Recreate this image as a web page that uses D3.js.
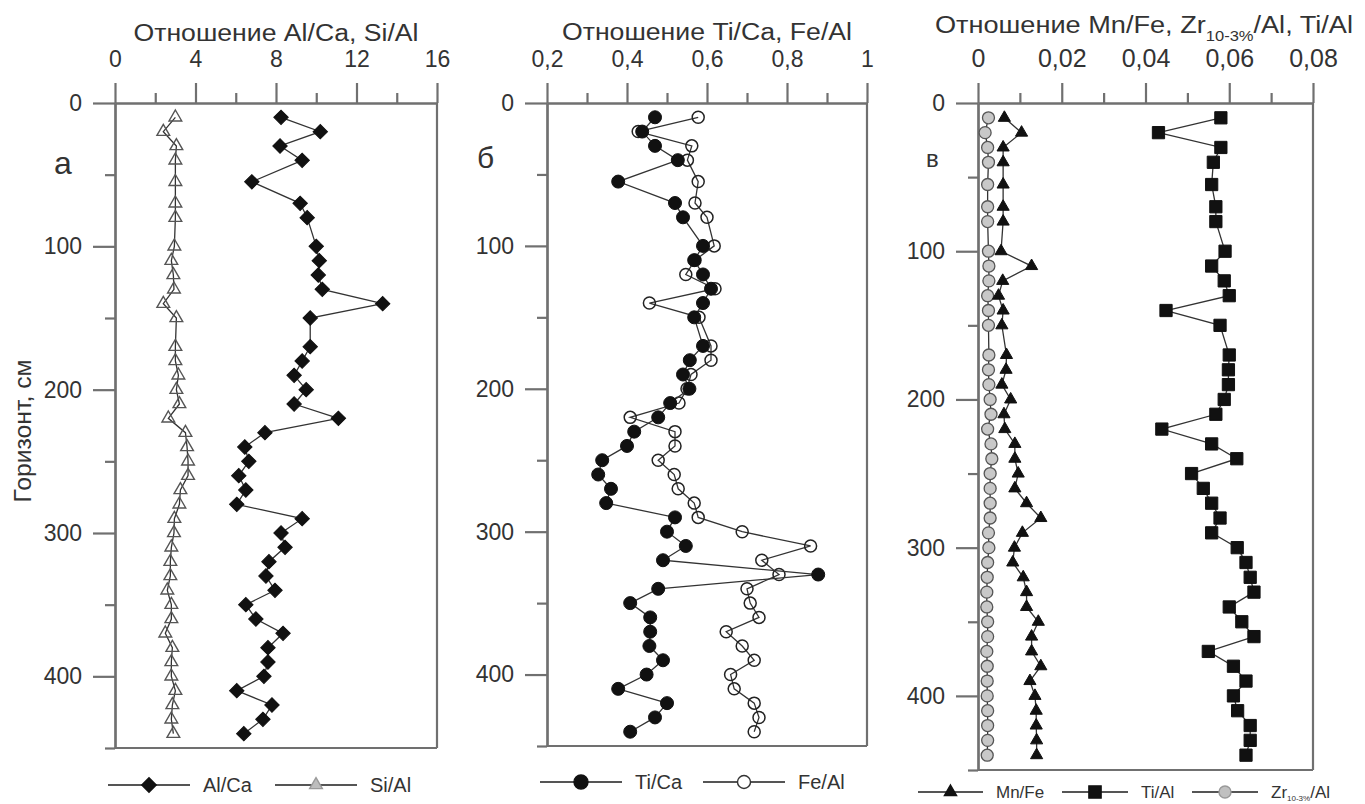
<!DOCTYPE html>
<html>
<head>
<meta charset="utf-8">
<script src="https://cdn.jsdelivr.net/npm/d3@7"></script>
<style>
  body { margin: 0; background: #fff; }
  svg text { font-family: "Liberation Sans", Arial, Helvetica, sans-serif; fill: #333; }
</style>
</head>
<body>
<div id="chart"></div>
<script>
// depth of samples, cm
const depth = [10, 20, 30, 40, 55, 70, 80, 100, 110, 120, 130, 140, 150,
  170, 180, 190, 200, 210, 220, 230, 240, 250, 260, 270, 280, 290,
  300, 310, 320, 330, 340, 350, 360, 370, 380, 390, 400, 410, 420, 430, 440];

// panel a
const alCa = [8.25, 10.2, 8.2, 9.3, 6.8, 9.2, 9.55, 10.0, 10.15, 10.1, 10.3, 13.3, 9.7,
  9.7, 9.3, 8.9, 9.5, 8.9, 11.1, 7.45, 6.45, 6.65, 6.15, 6.5, 6.05, 9.3,
  8.25, 8.45, 7.65, 7.5, 7.95, 6.5, 7.0, 8.35, 7.6, 7.6, 7.4, 6.05, 7.8, 7.35, 6.4];
const siAl = [3.0, 2.4, 3.05, 3.0, 3.0, 3.0, 3.0, 2.95, 2.8, 2.9, 2.93, 2.4, 3.05,
  3.0, 3.0, 3.15, 3.05, 3.2, 2.65, 3.5, 3.58, 3.63, 3.63, 3.25, 3.2, 2.95,
  2.93, 2.8, 2.75, 2.75, 2.6, 2.8, 2.8, 2.5, 2.85, 2.8, 2.8, 3.0, 2.85, 2.8, 2.9];

// panel б
const tiCa = [0.47, 0.438, 0.47, 0.527, 0.378, 0.52, 0.54, 0.59, 0.568, 0.59, 0.61, 0.59, 0.568,
  0.59, 0.557, 0.54, 0.556, 0.508, 0.478, 0.418, 0.4, 0.338, 0.328, 0.36, 0.348, 0.52,
  0.5, 0.547, 0.49, 0.878, 0.478, 0.408, 0.458, 0.458, 0.456, 0.49, 0.449, 0.378, 0.5, 0.47, 0.408];
const feAl = [0.578, 0.428, 0.562, 0.551, 0.578, 0.57, 0.6, 0.618, 0.57, 0.547, 0.62, 0.456, 0.58,
  0.61, 0.61, 0.56, 0.55, 0.53, 0.408, 0.52, 0.52, 0.478, 0.518, 0.528, 0.568, 0.578,
  0.688, 0.859, 0.737, 0.78, 0.7, 0.708, 0.73, 0.648, 0.688, 0.718, 0.659, 0.668, 0.718, 0.73, 0.718];

// panel в
const mnFe = [0.0063, 0.0104, 0.006, 0.006, 0.006, 0.006, 0.006, 0.0055, 0.0128, 0.0059, 0.0049, 0.006, 0.0057,
  0.0068, 0.0067, 0.0057, 0.0078, 0.0062, 0.0064, 0.0088, 0.0088, 0.0096, 0.0088, 0.0116, 0.015, 0.0106,
  0.0087, 0.0083, 0.0108, 0.0116, 0.0116, 0.0144, 0.0128, 0.0128, 0.015, 0.0124, 0.0136, 0.0139, 0.0139, 0.014, 0.014];
const tiAl = [0.058, 0.0431, 0.058, 0.0562, 0.0558, 0.0568, 0.0568, 0.059, 0.0558, 0.0588, 0.06, 0.0449, 0.0578,
  0.06, 0.0598, 0.0598, 0.0588, 0.0568, 0.0439, 0.0558, 0.0618, 0.051, 0.0538, 0.0558, 0.0578, 0.0558,
  0.0619, 0.064, 0.065, 0.0659, 0.06, 0.063, 0.0659, 0.055, 0.061, 0.064, 0.061, 0.062, 0.065, 0.065, 0.064];
const zrAl = [0.0025, 0.0017, 0.0023, 0.0025, 0.0023, 0.0023, 0.0023, 0.0025, 0.0026, 0.0026, 0.0023, 0.0025, 0.0025,
  0.0026, 0.0025, 0.0026, 0.0029, 0.0031, 0.0023, 0.0031, 0.0033, 0.0029, 0.0029, 0.0029, 0.0029, 0.0025,
  0.0026, 0.0023, 0.0022, 0.0021, 0.0021, 0.0023, 0.0023, 0.0021, 0.0022, 0.0022, 0.0022, 0.0023, 0.0023, 0.0023, 0.0022];

// axis ticks
const depthMajor = [0, 100, 200, 300, 400];
const depthMinor = [50, 150, 250, 350, 450];
const ticksA = [0, 4, 8, 12, 16], minorA = [2, 6, 10, 14];
const ticksB = [0.2, 0.4, 0.6, 0.8, 1], minorB = [0.3, 0.5, 0.7, 0.9];
const ticksC = [0, 0.02, 0.04, 0.06, 0.08], minorC = [0.01, 0.03, 0.05, 0.07];

const width = 1365, height = 804;
const axisColor = "#707070";
const lineColor = "#333";

const svg = d3.select("#chart").append("svg")
  .attr("width", width)
  .attr("height", height);

svg.append("rect").attr("width", width).attr("height", height).attr("fill", "#fff");

const commaFmt = d => String(d).replace(".", ",");

// symbol shapes
const sym = {
  diamond: d3.symbol().type(d3.symbolSquare).size(104)(),
  triangle: d3.symbol().type(d3.symbolTriangle).size(70)(),
  triSmall: d3.symbol().type(d3.symbolTriangle).size(64)(),
  square: d3.symbol().type(d3.symbolSquare).size(150)()
};

function drawPanel(p) {
  const x = d3.scaleLinear().domain(p.domain).range([p.left, p.right]);
  const y = d3.scaleLinear().domain([0, 450]).range([p.top, p.bottom]);
  const g = svg.append("g");

  // top axis, major and minor ticks
  g.append("g").attr("transform", "translate(0," + p.top + ")")
    .call(d3.axisTop(x).tickValues(p.major).tickSize(20).tickSizeOuter(0).tickPadding(16).tickFormat(commaFmt))
    .selectAll(".tick text").attr("font-size", p.tickFont);
  g.append("g").attr("transform", "translate(0," + p.top + ")")
    .call(d3.axisTop(x).tickValues(p.minor).tickSize(10).tickSizeOuter(0).tickFormat(""));

  // left axis
  g.append("g").attr("transform", "translate(" + p.left + ",0)")
    .call(d3.axisLeft(y).tickValues(depthMajor).tickSize(22).tickSizeOuter(0).tickPadding(11))
    .selectAll(".tick text").attr("font-size", p.yTickFont);
  g.append("g").attr("transform", "translate(" + p.left + ",0)")
    .call(d3.axisLeft(y).tickValues(depthMinor).tickSize(10).tickSizeOuter(0).tickFormat(""));

  g.selectAll(".domain, .tick line").attr("stroke", axisColor).attr("stroke-width", 2.2);
  g.selectAll(".tick text").attr("fill", "#333")
    .style("font-family", "'Liberation Sans', Arial, sans-serif");

  // frame: right and bottom
  g.append("line").attr("x1", x(p.domain[1])).attr("x2", x(p.domain[1]))
    .attr("y1", p.top).attr("y2", y(450)).attr("stroke", axisColor).attr("stroke-width", 2.2);
  g.append("line").attr("x1", p.left).attr("x2", x(p.domain[1]))
    .attr("y1", y(450)).attr("y2", y(450)).attr("stroke", axisColor).attr("stroke-width", 2.2);

  // title
  const t = g.append("text").attr("x", p.titleX).attr("y", p.titleY)
    .attr("text-anchor", "middle").attr("font-size", 23)
    .attr("textLength", p.titleLen).attr("lengthAdjust", "spacingAndGlyphs");
  p.title.forEach(part => {
    const ts = t.append("tspan").text(part.text);
    if (part.sub) ts.attr("font-size", 14).attr("dy", 8);
    if (part.after) ts.attr("dy", -8);
  });

  // panel letter
  g.append("text").attr("x", p.letterX).attr("y", p.letterY)
    .attr("font-size", p.letterFont).text(p.letter);

  // series
  p.series.forEach(s => {
    const pts = depth.map((d, i) => [x(s.values[i]), y(d)]);
    g.append("path").attr("d", d3.line()(pts))
      .attr("fill", "none").attr("stroke", lineColor).attr("stroke-width", 1.3);
    g.selectAll(null).data(pts).enter().append("path")
      .attr("d", s.shape)
      .attr("transform", d => "translate(" + d[0] + "," + d[1] + ")" + (s.rotate ? " rotate(45)" : ""))
      .attr("fill", s.fill).attr("stroke", s.stroke).attr("stroke-width", s.sw);
  });

  // legend
  p.legend.forEach(l => {
    const lg = g.append("g").attr("transform", "translate(" + l.x + "," + p.legendY + ")");
    lg.append("line").attr("x1", 0).attr("x2", l.len).attr("stroke", "#555").attr("stroke-width", 1.8);
    lg.append("path").attr("d", l.shape)
      .attr("transform", "translate(" + (l.len / 2) + ",0)" + (l.rotate ? " rotate(45)" : ""))
      .attr("fill", l.fill).attr("stroke", l.stroke).attr("stroke-width", 1.4);
    const tx = lg.append("text").attr("x", l.len + 13).attr("y", p.legendFont * 0.36)
      .attr("font-size", p.legendFont);
    l.label.forEach(part => {
      const ts = tx.append("tspan").text(part.text);
      if (part.sub) ts.attr("font-size", 8).attr("dy", 3);
      if (part.after) ts.attr("dy", -3);
    });
  });
}

const circ = r => d3.symbol().type(d3.symbolCircle).size(Math.PI * r * r)();

drawPanel({
  left: 115, right: 437, top: 103, bottom: 748,
  domain: [0, 16], major: ticksA, minor: minorA, tickFont: 23, yTickFont: 23,
  title: [{ text: "Отношение Al/Ca, Si/Al" }], titleX: 276, titleY: 41, titleLen: 285,
  letter: "а", letterX: 54, letterY: 174, letterFont: 32,
  series: [
    { values: siAl, shape: sym.triangle, fill: "none", stroke: "#555", sw: 1.4 },
    { values: alCa, shape: sym.diamond, rotate: true, fill: "#111", stroke: "#111", sw: 1 }
  ],
  legendY: 785, legendFont: 20,
  legend: [
    { x: 108, len: 82, shape: sym.diamond, rotate: true, fill: "#111", stroke: "#111", label: [{ text: "Al/Ca" }] },
    { x: 275, len: 82, shape: sym.triangle, fill: "#bdbdbd", stroke: "#9a9a9a", label: [{ text: "Si/Al" }] }
  ]
});

drawPanel({
  left: 547, right: 867, top: 103, bottom: 746,
  domain: [0.2, 1], major: ticksB, minor: minorB, tickFont: 23, yTickFont: 23,
  title: [{ text: "Отношение Ti/Ca, Fe/Al" }], titleX: 707, titleY: 40, titleLen: 290,
  letter: "б", letterX: 477, letterY: 168, letterFont: 30,
  series: [
    { values: feAl, shape: circ(6), fill: "none", stroke: "#222", sw: 1.5 },
    { values: tiCa, shape: circ(6.5), fill: "#111", stroke: "#111", sw: 1 }
  ],
  legendY: 782, legendFont: 20,
  legend: [
    { x: 540, len: 82, shape: circ(7), fill: "#111", stroke: "#111", label: [{ text: "Ti/Ca" }] },
    { x: 703, len: 82, shape: circ(6.5), fill: "#fff", stroke: "#333", label: [{ text: "Fe/Al" }] }
  ]
});

drawPanel({
  left: 978, right: 1313, top: 103, bottom: 770,
  domain: [0, 0.08], major: ticksC, minor: minorC, tickFont: 25, yTickFont: 23,
  title: [{ text: "Отношение Mn/Fe, Zr" }, { text: "10-3%", sub: true }, { text: "/Al, Ti/Al", after: true }],
  titleX: 1144, titleY: 33, titleLen: 418,
  letter: "в", letterX: 926, letterY: 167, letterFont: 24,
  series: [
    { values: zrAl, shape: circ(6), fill: "#c8c8c8", stroke: "#555", sw: 1.3 },
    { values: mnFe, shape: sym.triSmall, fill: "#111", stroke: "#111", sw: 1 },
    { values: tiAl, shape: sym.square, fill: "#111", stroke: "#111", sw: 1 }
  ],
  legendY: 792, legendFont: 17,
  legend: [
    { x: 918, len: 65, shape: sym.triSmall, fill: "#111", stroke: "#111", label: [{ text: "Mn/Fe" }] },
    { x: 1062, len: 66, shape: sym.square, fill: "#111", stroke: "#111", label: [{ text: "Ti/Al" }] },
    { x: 1192, len: 66, shape: circ(6), fill: "#c0c0c0", stroke: "#999", label: [{ text: "Zr" }, { text: "10-3%", sub: true }, { text: "/Al", after: true }] }
  ]
});

// y axis label
svg.append("text")
  .attr("transform", "translate(31,431) rotate(-90)")
  .attr("text-anchor", "middle")
  .attr("font-size", 24)
  .attr("textLength", 143).attr("lengthAdjust", "spacingAndGlyphs")
  .text("Горизонт, см");
</script>
</body>
</html>
